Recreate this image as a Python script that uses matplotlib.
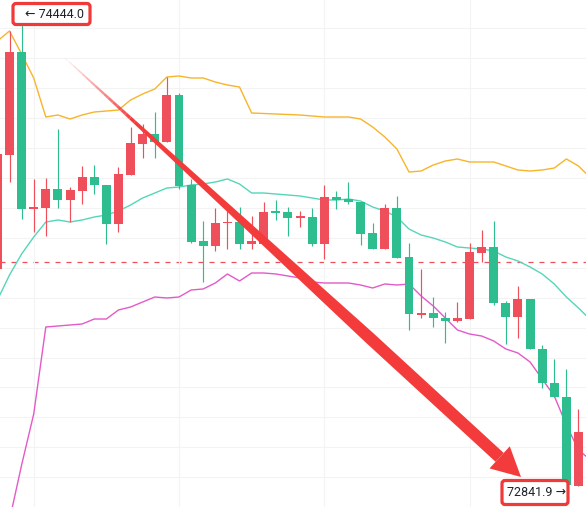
import numpy as np
import matplotlib.pyplot as plt
from matplotlib.patches import Rectangle, FancyBboxPatch, Polygon

# velas (una por hora)
opens = [73595.9, 73976.7, 74320.9, 73796.3, 73799.7, 73863.2, 73826.4, 73856.5, 73903.2, 73876.5,
         73746.2, 73909.9, 74013.5, 74046.9, 74020.2, 74177.2, 73876.5, 73689.4, 73672.7, 73749.6,
         73752.9, 73679.4, 73679.4, 73789.6, 73786.3, 73766.3, 73769.6, 73679.4, 73836.4, 73829.7,
         73819.7, 73716.1, 73662.7, 73799.7, 73636.0, 73442.2, 73448.9, 73432.2, 73422.1, 73428.8,
         73649.3, 73669.4, 73482.3, 73435.5, 73495.6, 73328.6, 73215.0, 73168.2, 72870.9]
highs = [73993.4, 74391.0, 74444.0, 73896.6, 73899.9, 74063.6, 73869.8, 73940.0, 73943.3, 73876.5,
         73936.7, 74070.3, 74080.3, 74120.4, 74237.3, 74183.9, 73896.6, 73756.2, 73799.7, 73789.6,
         73803.0, 73772.9, 73819.7, 73826.4, 73803.0, 73789.6, 73799.7, 73876.5, 73856.5, 73886.5,
         73819.7, 73749.6, 73813.0, 73839.8, 73682.7, 73595.9, 73502.3, 73452.2, 73485.6, 73682.7,
         73726.2, 73756.2, 73489.0, 73539.1, 73495.6, 73342.0, 73295.2, 73261.8, 73128.1]
lows = [73585.8, 73886.5, 73762.9, 73719.5, 73706.1, 73799.7, 73752.9, 73813.0, 73846.4, 73679.4,
        73719.5, 73909.9, 73966.7, 73966.7, 74020.2, 73863.2, 73682.7, 73552.4, 73656.0, 73662.7,
        73662.7, 73662.7, 73679.4, 73759.6, 73706.1, 73736.2, 73672.7, 73629.3, 73796.3, 73813.0,
        73676.1, 73662.7, 73662.7, 73632.6, 73392.1, 73432.2, 73402.1, 73348.6, 73418.8, 73428.8,
        73619.3, 73475.6, 73345.3, 73365.3, 73328.6, 73198.3, 73168.2, 72841.9, 72870.9]
closes = [73980.1, 74320.9, 73796.3, 73803.0, 73863.2, 73826.4, 73859.8, 73903.2, 73876.5, 73746.2,
          73913.3, 74016.8, 74046.9, 74020.2, 74177.2, 73873.2, 73686.1, 73672.7, 73749.6, 73752.9,
          73679.4, 73689.4, 73786.3, 73783.0, 73766.3, 73772.9, 73679.4, 73836.4, 73826.4, 73819.7,
          73712.8, 73662.7, 73799.7, 73632.6, 73445.5, 73448.9, 73432.2, 73422.1, 73432.2, 73652.7,
          73669.4, 73482.3, 73435.5, 73495.6, 73328.6, 73215.0, 73168.2, 72874.2, 73051.3]

# bandas de Bollinger
upper = [74357.6, 74391.0, 74314.2, 74234.0, 74103.7, 74110.4, 74097.0, 74110.4, 74120.4, 74123.7,
         74127.1, 74160.5, 74180.5, 74197.3, 74237.3, 74240.7, 74234.0, 74234.0, 74220.6, 74210.6,
         74203.9, 74117.1, 74115.4, 74113.7, 74112.1, 74110.4, 74107.0, 74103.7, 74103.7, 74103.7,
         74097.0, 74070.3, 74036.9, 73996.8, 73919.9, 73923.3, 73943.3, 73956.7, 73963.4, 73953.4,
         73953.4, 73953.4, 73940.0, 73926.6, 73923.3, 73926.6, 73933.3, 73963.4, 73940.0, 73899.9]
middle = [73492.3, 73575.8, 73646.0, 73702.8, 73752.9, 73759.6, 73752.9, 73759.6, 73769.6, 73776.3,
          73789.6, 73809.7, 73833.1, 73849.8, 73866.5, 73869.8, 73876.5, 73879.9, 73886.5, 73896.6,
          73879.9, 73849.8, 73849.8, 73846.4, 73843.1, 73839.8, 73833.1, 73826.4, 73826.4, 73829.7,
          73823.1, 73803.0, 73789.6, 73769.6, 73729.5, 73709.5, 73699.4, 73686.1, 73669.4, 73666.0,
          73662.7, 73656.0, 73636.0, 73622.6, 73602.6, 73579.2, 73545.8, 73502.3, 73465.6, 73425.5]
lower = [72623.6, 72757.3, 72941.0, 73111.4, 73402.1, 73405.4, 73408.8, 73412.1, 73428.8, 73428.8,
         73458.9, 73468.9, 73485.6, 73502.3, 73499.0, 73502.3, 73525.7, 73529.1, 73549.1, 73579.2,
         73555.8, 73582.5, 73582.5, 73579.2, 73572.5, 73565.8, 73552.4, 73549.1, 73549.1, 73549.1,
         73542.4, 73532.4, 73545.8, 73542.4, 73545.8, 73505.7, 73472.3, 73432.2, 73392.1, 73378.7,
         73372.0, 73355.3, 73328.6, 73315.2, 73285.2, 73228.4, 73171.6, 73074.7, 72991.1, 72957.7]

precio_ref = 73618.3

ROJO = '#ef4f5b'
VERDE = '#2dbd8e'

fig = plt.figure(figsize=(5.86, 5.07), dpi=100)
ax = fig.add_axes([0, 0, 1, 1])
ax.set_xlim(0.215, 48.62)
ax.set_ylim(72800.7, 74494.6)

# grilla
ax.set_yticks(np.arange(72900, 74401, 100))
ax.set_xticks([3, 15, 27, 39])
ax.grid(color='#f3f3f3', lw=0.8, zorder=0)
ax.tick_params(length=0, labelleft=False, labelbottom=False)
for s in ax.spines.values():
    s.set_visible(False)

ax.axhline(precio_ref, color=ROJO, lw=0.9, ls=(0, (4, 4.8)), zorder=1)

xb = np.arange(len(upper))
ax.plot(xb, upper, color='#f7b52a', lw=1.0, zorder=2)
ax.plot(xb, middle, color='#55d6b9', lw=1.0, zorder=2)
ax.plot(xb, lower, color='#e35ac8', lw=1.0, zorder=2)

ancho = 0.74
for i in range(len(opens)):
    o, h, l, c = opens[i], highs[i], lows[i], closes[i]
    col = ROJO if c >= o else VERDE
    ax.vlines(i, l, h, color=col, lw=0.85, zorder=3)
    alto = max(abs(c - o), 4.0)
    ax.add_patch(Rectangle((i - ancho / 2, min(o, c)), ancho, alto, facecolor=col,
                           edgecolor='none', zorder=4))

# capa de anotaciones en pixeles
ax2 = fig.add_axes([0, 0, 1, 1], facecolor='none')
ax2.set_xlim(0, 586)
ax2.set_ylim(507, 0)
ax2.axis('off')

FLECHA = '#f43b3b'
S = np.array([65.0, 58.0])
T = np.array([521.0, 477.0])
d = (T - S) / np.linalg.norm(T - S)
n = np.array([-d[1], d[0]])
B = T - 29 * d


def punto(t):
    return S + (B - S) * t


def grosor(t):
    return 1 + 11 * min(1.0, t / 0.7)


# inicio difuminado
pasos = np.linspace(0, 0.16, 17)
for t0, t1 in zip(pasos[:-1], pasos[1:]):
    p0, p1 = punto(t0), punto(t1)
    w0, w1 = grosor(t0) / 2, grosor(t1) / 2
    ax2.add_patch(Polygon([p0 + n * w0, p1 + n * w1, p1 - n * w1, p0 - n * w0],
                          facecolor=FLECHA, edgecolor='none', alpha=min(1, t1 / 0.16)))
ts = [0.16, 0.7, 1.0]
lado_a = [punto(t) + n * grosor(t) / 2 for t in ts]
lado_b = [punto(t) - n * grosor(t) / 2 for t in ts[::-1]]
ax2.add_patch(Polygon(lado_a + lado_b, facecolor=FLECHA, edgecolor='none'))
ax2.add_patch(Polygon([T, B + n * 15, B - n * 15], facecolor=FLECHA, edgecolor='none'))

# etiquetas de maximo y minimo
fuente = ['Roboto', 'DejaVu Sans']
ax2.add_patch(FancyBboxPatch((13, 3.5), 77, 21, boxstyle='round,pad=0,rounding_size=3',
                             facecolor='white', edgecolor='#f03a3a', lw=2.3))
ax2.text(25, 14.5, f'← {max(highs):.1f}', fontsize=9, color='#1e2329', va='center',
         ha='left', family=fuente)
ax2.add_patch(FancyBboxPatch((502, 480.5), 66, 24, boxstyle='round,pad=0,rounding_size=3',
                             facecolor='white', edgecolor='#f03a3a', lw=2.3))
ax2.text(507, 492.5, f'{min(lows):.1f} →', fontsize=9, color='#1e2329', va='center',
         ha='left', family=fuente)

plt.savefig('out.png', dpi=100)
